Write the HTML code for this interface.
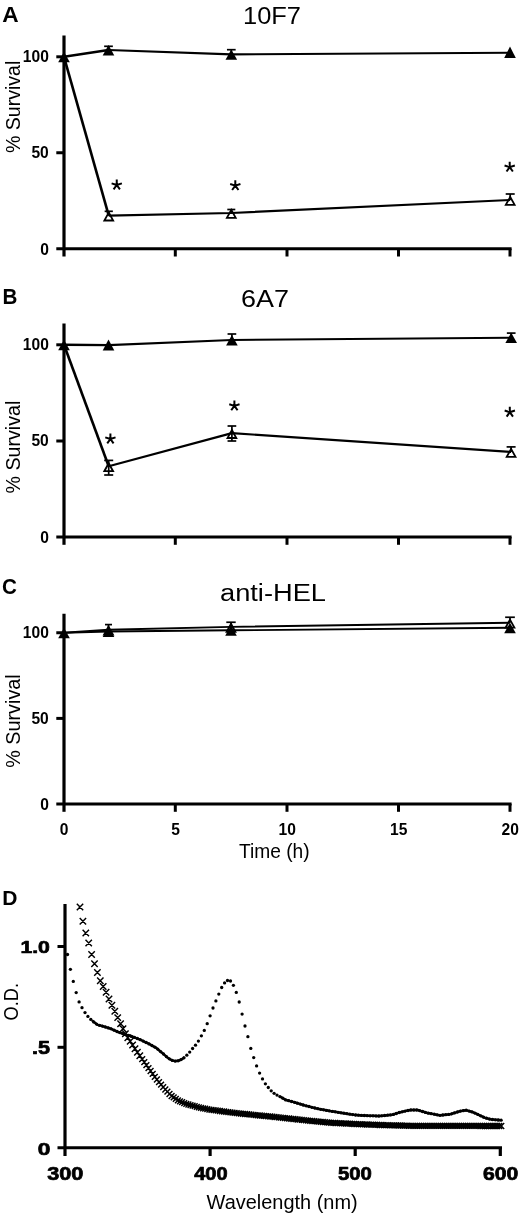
<!DOCTYPE html>
<html><head><meta charset="utf-8"><title>Figure</title>
<style>
html,body{margin:0;padding:0;background:#fff;}
body{width:520px;height:1214px;overflow:hidden;font-family:"Liberation Sans",sans-serif;}
svg{display:block;will-change:transform;filter:grayscale(1) blur(0.45px);}
svg text{font-family:"Liberation Sans",sans-serif;fill:#000;}
svg line,svg polyline{stroke:#000;}
</style></head>
<body>
<svg width="520" height="1214" viewBox="0 0 520 1214">
<rect x="0" y="0" width="520" height="1214" fill="#fff"/>
<text transform="translate(2.20,22.40) scale(1.0544,1)" font-size="21.53" font-weight="bold">A</text>
<text transform="translate(243.00,23.86) scale(1.0713,1)" font-size="23.75" font-weight="normal">10F7</text>
<text transform="translate(20.30,153.10) rotate(-90) scale(0.9593,1)" font-size="20.41" font-weight="normal">% Survival</text>
<line x1="64.00" y1="35.50" x2="64.00" y2="256.50" stroke-width="3.2" stroke-linecap="butt"/>
<line x1="56.30" y1="248.70" x2="511.60" y2="248.70" stroke-width="3.0" stroke-linecap="butt"/>
<line x1="56.30" y1="56.80" x2="64.00" y2="56.80" stroke-width="3.0" stroke-linecap="butt"/>
<line x1="56.30" y1="152.75" x2="64.00" y2="152.75" stroke-width="3.0" stroke-linecap="butt"/>
<line x1="175.30" y1="248.70" x2="175.30" y2="256.50" stroke-width="3.0" stroke-linecap="butt"/>
<line x1="287.00" y1="248.70" x2="287.00" y2="256.50" stroke-width="3.0" stroke-linecap="butt"/>
<line x1="398.50" y1="248.70" x2="398.50" y2="256.50" stroke-width="3.0" stroke-linecap="butt"/>
<line x1="510.00" y1="248.70" x2="510.00" y2="256.50" stroke-width="3.0" stroke-linecap="butt"/>
<text transform="translate(22.79,62.26) scale(1.0000,1)" font-size="15.60" font-weight="bold">100</text>
<text transform="translate(31.44,158.21) scale(1.0000,1)" font-size="15.60" font-weight="bold">50</text>
<text transform="translate(40.14,254.76) scale(1.0000,1)" font-size="15.60" font-weight="bold">0</text>
<line x1="108.75" y1="211.30" x2="108.75" y2="215.60" stroke-width="1.7" stroke-linecap="butt"/>
<line x1="104.65" y1="211.30" x2="112.85" y2="211.30" stroke-width="1.7" stroke-linecap="butt"/>
<line x1="231.30" y1="209.50" x2="231.30" y2="213.00" stroke-width="1.7" stroke-linecap="butt"/>
<line x1="227.30" y1="209.50" x2="235.30" y2="209.50" stroke-width="1.7" stroke-linecap="butt"/>
<line x1="510.20" y1="194.00" x2="510.20" y2="200.00" stroke-width="1.7" stroke-linecap="butt"/>
<line x1="505.70" y1="194.00" x2="514.70" y2="194.00" stroke-width="1.7" stroke-linecap="butt"/>
<line x1="108.50" y1="46.30" x2="108.50" y2="50.00" stroke-width="1.7" stroke-linecap="butt"/>
<line x1="104.15" y1="46.30" x2="112.85" y2="46.30" stroke-width="1.7" stroke-linecap="butt"/>
<line x1="231.30" y1="49.70" x2="231.30" y2="54.40" stroke-width="1.7" stroke-linecap="butt"/>
<line x1="226.95" y1="49.70" x2="235.65" y2="49.70" stroke-width="1.7" stroke-linecap="butt"/>
<polygon points="108.75,212.50 113.15,220.50 104.35,220.50" fill="none" stroke="#000" stroke-width="1.8" stroke-linejoin="miter"/>
<polygon points="231.30,209.90 235.70,217.90 226.90,217.90" fill="none" stroke="#000" stroke-width="1.8" stroke-linejoin="miter"/>
<polygon points="510.20,196.90 514.60,204.90 505.80,204.90" fill="none" stroke="#000" stroke-width="1.8" stroke-linejoin="miter"/>
<polyline points="108.50,50.00 231.30,54.40 510.00,52.70" fill="none" stroke-width="2.1" stroke-linejoin="round"/>
<polyline points="64.00,56.80 108.50,50.00" fill="none" stroke-width="2.4000000000000004" stroke-linejoin="round"/>
<polyline points="108.75,215.60 231.30,213.00 510.20,200.00" fill="none" stroke-width="2.2" stroke-linejoin="round"/>
<polyline points="64.00,56.80 108.75,215.60" fill="none" stroke-width="2.6" stroke-linejoin="round"/>
<polygon points="64.00,51.80 69.80,62.20 58.20,62.20" fill="#000" stroke="none"/>
<polygon points="108.50,45.00 114.30,55.40 102.70,55.40" fill="#000" stroke="none"/>
<polygon points="231.30,49.40 237.10,59.80 225.50,59.80" fill="#000" stroke="none"/>
<polygon points="510.00,46.40 515.80,58.10 504.20,58.10" fill="#000" stroke="none"/>
<path d="M116.75 185.00L116.75 179.60M116.75 185.00L121.89 183.33M116.75 185.00L119.92 189.37M116.75 185.00L113.58 189.37M116.75 185.00L111.61 183.33" fill="none" stroke="#000" stroke-width="2.0"/>
<path d="M235.30 185.60L235.30 180.20M235.30 185.60L240.44 183.93M235.30 185.60L238.47 189.97M235.30 185.60L232.13 189.97M235.30 185.60L230.16 183.93" fill="none" stroke="#000" stroke-width="2.0"/>
<path d="M509.70 167.10L509.70 161.70M509.70 167.10L514.84 165.43M509.70 167.10L512.87 171.47M509.70 167.10L506.53 171.47M509.70 167.10L504.56 165.43" fill="none" stroke="#000" stroke-width="2.0"/>
<text transform="translate(2.60,303.60) scale(0.9516,1)" font-size="21.67" font-weight="bold">B</text>
<text transform="translate(241.00,307.16) scale(1.1028,1)" font-size="24.45" font-weight="normal">6A7</text>
<text transform="translate(20.00,493.50) rotate(-90) scale(0.9764,1)" font-size="20.14" font-weight="normal">% Survival</text>
<line x1="64.00" y1="323.50" x2="64.00" y2="544.80" stroke-width="3.2" stroke-linecap="butt"/>
<line x1="56.30" y1="537.00" x2="511.60" y2="537.00" stroke-width="3.0" stroke-linecap="butt"/>
<line x1="56.30" y1="344.80" x2="64.00" y2="344.80" stroke-width="3.0" stroke-linecap="butt"/>
<line x1="56.30" y1="441.00" x2="64.00" y2="441.00" stroke-width="3.0" stroke-linecap="butt"/>
<line x1="175.30" y1="537.00" x2="175.30" y2="544.80" stroke-width="3.0" stroke-linecap="butt"/>
<line x1="287.00" y1="537.00" x2="287.00" y2="544.80" stroke-width="3.0" stroke-linecap="butt"/>
<line x1="398.50" y1="537.00" x2="398.50" y2="544.80" stroke-width="3.0" stroke-linecap="butt"/>
<line x1="510.00" y1="537.00" x2="510.00" y2="544.80" stroke-width="3.0" stroke-linecap="butt"/>
<text transform="translate(22.79,350.26) scale(1.0000,1)" font-size="15.60" font-weight="bold">100</text>
<text transform="translate(31.44,446.46) scale(1.0000,1)" font-size="15.60" font-weight="bold">50</text>
<text transform="translate(40.14,543.06) scale(1.0000,1)" font-size="15.60" font-weight="bold">0</text>
<line x1="108.70" y1="460.40" x2="108.70" y2="475.00" stroke-width="1.7" stroke-linecap="butt"/>
<line x1="104.20" y1="460.40" x2="113.20" y2="460.40" stroke-width="1.7" stroke-linecap="butt"/>
<line x1="104.20" y1="475.00" x2="113.20" y2="475.00" stroke-width="1.7" stroke-linecap="butt"/>
<line x1="231.90" y1="426.00" x2="231.90" y2="441.00" stroke-width="1.7" stroke-linecap="butt"/>
<line x1="227.55" y1="426.00" x2="236.25" y2="426.00" stroke-width="1.7" stroke-linecap="butt"/>
<line x1="227.55" y1="441.00" x2="236.25" y2="441.00" stroke-width="1.7" stroke-linecap="butt"/>
<line x1="511.10" y1="446.90" x2="511.10" y2="452.00" stroke-width="1.7" stroke-linecap="butt"/>
<line x1="506.60" y1="446.90" x2="515.60" y2="446.90" stroke-width="1.7" stroke-linecap="butt"/>
<line x1="231.90" y1="334.00" x2="231.90" y2="340.00" stroke-width="1.7" stroke-linecap="butt"/>
<line x1="227.55" y1="334.00" x2="236.25" y2="334.00" stroke-width="1.7" stroke-linecap="butt"/>
<line x1="511.20" y1="333.10" x2="511.20" y2="337.70" stroke-width="1.7" stroke-linecap="butt"/>
<line x1="506.85" y1="333.10" x2="515.55" y2="333.10" stroke-width="1.7" stroke-linecap="butt"/>
<polygon points="108.70,463.20 113.10,471.20 104.30,471.20" fill="none" stroke="#000" stroke-width="1.8" stroke-linejoin="miter"/>
<polygon points="231.90,430.00 236.30,438.00 227.50,438.00" fill="none" stroke="#000" stroke-width="1.8" stroke-linejoin="miter"/>
<polygon points="511.10,448.90 515.50,456.90 506.70,456.90" fill="none" stroke="#000" stroke-width="1.8" stroke-linejoin="miter"/>
<polyline points="108.50,345.10 231.90,340.00 511.20,337.70" fill="none" stroke-width="2.1" stroke-linejoin="round"/>
<polyline points="64.00,344.80 108.50,345.10" fill="none" stroke-width="2.4000000000000004" stroke-linejoin="round"/>
<polyline points="108.70,466.30 231.90,433.10 511.10,452.00" fill="none" stroke-width="2.2" stroke-linejoin="round"/>
<polyline points="64.00,344.80 108.70,466.30" fill="none" stroke-width="2.6" stroke-linejoin="round"/>
<polygon points="64.00,339.80 69.80,350.20 58.20,350.20" fill="#000" stroke="none"/>
<polygon points="108.50,339.50 114.30,350.50 102.70,350.50" fill="#000" stroke="none"/>
<polygon points="231.90,335.00 237.70,345.40 226.10,345.40" fill="#000" stroke="none"/>
<polygon points="511.20,332.70 517.00,343.10 505.40,343.10" fill="#000" stroke="none"/>
<path d="M110.40 439.00L110.40 433.60M110.40 439.00L115.54 437.33M110.40 439.00L113.57 443.37M110.40 439.00L107.23 443.37M110.40 439.00L105.26 437.33" fill="none" stroke="#000" stroke-width="2.0"/>
<path d="M234.40 405.90L234.40 400.50M234.40 405.90L239.54 404.23M234.40 405.90L237.57 410.27M234.40 405.90L231.23 410.27M234.40 405.90L229.26 404.23" fill="none" stroke="#000" stroke-width="2.0"/>
<path d="M509.80 412.20L509.80 406.80M509.80 412.20L514.94 410.53M509.80 412.20L512.97 416.57M509.80 412.20L506.63 416.57M509.80 412.20L504.66 410.53" fill="none" stroke="#000" stroke-width="2.0"/>
<text transform="translate(2.10,593.98) scale(0.9474,1)" font-size="21.77" font-weight="bold">C</text>
<text transform="translate(220.00,601.00) scale(1.1423,1)" font-size="23.85" font-weight="normal">anti-HEL</text>
<text transform="translate(20.40,767.80) rotate(-90) scale(0.9772,1)" font-size="20.27" font-weight="normal">% Survival</text>
<line x1="64.00" y1="613.75" x2="64.00" y2="811.80" stroke-width="3.2" stroke-linecap="butt"/>
<line x1="56.30" y1="804.00" x2="511.60" y2="804.00" stroke-width="3.0" stroke-linecap="butt"/>
<line x1="56.30" y1="632.75" x2="64.00" y2="632.75" stroke-width="3.0" stroke-linecap="butt"/>
<line x1="56.30" y1="718.40" x2="64.00" y2="718.40" stroke-width="3.0" stroke-linecap="butt"/>
<line x1="175.30" y1="804.00" x2="175.30" y2="811.80" stroke-width="3.0" stroke-linecap="butt"/>
<line x1="287.00" y1="804.00" x2="287.00" y2="811.80" stroke-width="3.0" stroke-linecap="butt"/>
<line x1="398.50" y1="804.00" x2="398.50" y2="811.80" stroke-width="3.0" stroke-linecap="butt"/>
<line x1="510.00" y1="804.00" x2="510.00" y2="811.80" stroke-width="3.0" stroke-linecap="butt"/>
<text transform="translate(22.79,638.21) scale(1.0000,1)" font-size="15.60" font-weight="bold">100</text>
<text transform="translate(31.44,723.86) scale(1.0000,1)" font-size="15.60" font-weight="bold">50</text>
<text transform="translate(40.14,810.06) scale(1.0000,1)" font-size="15.60" font-weight="bold">0</text>
<line x1="108.50" y1="624.60" x2="108.50" y2="629.70" stroke-width="1.7" stroke-linecap="butt"/>
<line x1="105.00" y1="624.60" x2="112.00" y2="624.60" stroke-width="1.7" stroke-linecap="butt"/>
<line x1="231.00" y1="622.25" x2="231.00" y2="626.90" stroke-width="1.7" stroke-linecap="butt"/>
<line x1="226.30" y1="622.25" x2="235.70" y2="622.25" stroke-width="1.7" stroke-linecap="butt"/>
<line x1="510.00" y1="617.25" x2="510.00" y2="622.75" stroke-width="1.7" stroke-linecap="butt"/>
<line x1="505.15" y1="617.25" x2="514.85" y2="617.25" stroke-width="1.7" stroke-linecap="butt"/>
<polygon points="108.50,626.60 112.90,634.60 104.10,634.60" fill="none" stroke="#000" stroke-width="1.8" stroke-linejoin="miter"/>
<polygon points="231.00,623.80 235.40,631.80 226.60,631.80" fill="none" stroke="#000" stroke-width="1.8" stroke-linejoin="miter"/>
<polygon points="510.00,619.65 514.40,627.65 505.60,627.65" fill="none" stroke="#000" stroke-width="1.8" stroke-linejoin="miter"/>
<polyline points="108.50,631.50 231.00,630.30 510.00,627.75" fill="none" stroke-width="1.9" stroke-linejoin="round"/>
<polyline points="108.50,629.70 231.00,626.90 510.00,622.75" fill="none" stroke-width="1.9" stroke-linejoin="round"/>
<polyline points="64.00,632.75 108.50,631.50" fill="none" stroke-width="2.1" stroke-linejoin="round"/>
<polyline points="64.00,632.75 108.50,629.70" fill="none" stroke-width="2.1" stroke-linejoin="round"/>
<polygon points="64.00,627.75 69.80,638.15 58.20,638.15" fill="#000" stroke="none"/>
<polygon points="108.50,626.50 114.30,636.90 102.70,636.90" fill="#000" stroke="none"/>
<polygon points="231.00,625.30 236.80,635.70 225.20,635.70" fill="#000" stroke="none"/>
<polygon points="510.00,622.75 515.80,633.15 504.20,633.15" fill="#000" stroke="none"/>
<text transform="translate(59.67,835.14) scale(1.0000,1)" font-size="15.60" font-weight="bold">0</text>
<text transform="translate(171.27,835.14) scale(1.0000,1)" font-size="15.60" font-weight="bold">5</text>
<text transform="translate(278.62,835.14) scale(1.0000,1)" font-size="15.60" font-weight="bold">10</text>
<text transform="translate(390.12,835.14) scale(1.0000,1)" font-size="15.60" font-weight="bold">15</text>
<text transform="translate(501.62,835.14) scale(1.0000,1)" font-size="15.60" font-weight="bold">20</text>
<text transform="translate(239.00,858.00) scale(0.9422,1)" font-size="20.36" font-weight="normal">Time (h)</text>
<text transform="translate(2.30,904.50) scale(1.0331,1)" font-size="20.36" font-weight="bold">D</text>
<text transform="translate(18.00,1020.50) rotate(-90) scale(0.8652,1)" font-size="21.09" font-weight="normal">O.D.</text>
<line x1="65.00" y1="904.00" x2="65.00" y2="1156.00" stroke-width="3.2" stroke-linecap="butt"/>
<line x1="57.50" y1="1147.70" x2="502.00" y2="1147.70" stroke-width="3.0" stroke-linecap="butt"/>
<line x1="57.50" y1="946.50" x2="65.00" y2="946.50" stroke-width="3.0" stroke-linecap="butt"/>
<line x1="57.50" y1="1047.30" x2="65.00" y2="1047.30" stroke-width="3.0" stroke-linecap="butt"/>
<line x1="210.10" y1="1147.70" x2="210.10" y2="1156.00" stroke-width="3.2" stroke-linecap="butt"/>
<line x1="355.20" y1="1147.70" x2="355.20" y2="1156.00" stroke-width="3.2" stroke-linecap="butt"/>
<line x1="500.30" y1="1147.70" x2="500.30" y2="1156.00" stroke-width="3.2" stroke-linecap="butt"/>
<text transform="translate(20.40,952.83) scale(1.2308,1)" font-size="17.24" font-weight="bold" stroke="#000" stroke-width="0.7" stroke-linejoin="round">1.0</text>
<text transform="translate(31.90,1053.73) scale(1.2325,1)" font-size="17.49" font-weight="bold" stroke="#000" stroke-width="0.7" stroke-linejoin="round">.5</text>
<text transform="translate(37.80,1154.63) scale(1.3166,1)" font-size="17.24" font-weight="bold" stroke="#000" stroke-width="0.7" stroke-linejoin="round">0</text>
<text transform="translate(47.20,1180.38) scale(1.2297,1)" font-size="17.61" font-weight="bold" stroke="#000" stroke-width="0.7" stroke-linejoin="round">300</text>
<text transform="translate(194.20,1180.42) scale(1.1337,1)" font-size="17.67" font-weight="bold" stroke="#000" stroke-width="0.7" stroke-linejoin="round">400</text>
<text transform="translate(338.00,1180.42) scale(1.1507,1)" font-size="17.67" font-weight="bold" stroke="#000" stroke-width="0.7" stroke-linejoin="round">500</text>
<text transform="translate(483.00,1180.42) scale(1.1982,1)" font-size="17.67" font-weight="bold" stroke="#000" stroke-width="0.7" stroke-linejoin="round">600</text>
<text transform="translate(206.60,1208.50) scale(0.9461,1)" font-size="21.09" font-weight="normal">Wavelength (nm)</text>
<g fill="#000" stroke="none"><circle cx="67.5" cy="954.5" r="1.65"/><circle cx="70.4" cy="969.3" r="1.65"/><circle cx="73.3" cy="981.4" r="1.65"/><circle cx="76.2" cy="992.6" r="1.65"/><circle cx="79.1" cy="1001.9" r="1.65"/><circle cx="82.0" cy="1007.7" r="1.65"/><circle cx="85.0" cy="1012.6" r="1.65"/><circle cx="87.9" cy="1016.4" r="1.65"/><circle cx="90.8" cy="1019.4" r="1.65"/><circle cx="93.7" cy="1021.9" r="1.65"/><circle cx="96.6" cy="1024.1" r="1.65"/><circle cx="99.5" cy="1025.3" r="1.65"/><circle cx="102.4" cy="1026.1" r="1.65"/><circle cx="105.3" cy="1027.0" r="1.65"/><circle cx="108.2" cy="1027.9" r="1.65"/><circle cx="111.1" cy="1028.8" r="1.65"/><circle cx="114.1" cy="1030.2" r="1.65"/><circle cx="117.0" cy="1031.5" r="1.65"/><circle cx="119.9" cy="1032.6" r="1.65"/><circle cx="122.8" cy="1033.6" r="1.65"/><circle cx="125.7" cy="1034.6" r="1.65"/><circle cx="128.6" cy="1035.5" r="1.65"/><circle cx="131.5" cy="1036.4" r="1.65"/><circle cx="134.4" cy="1037.4" r="1.65"/><circle cx="137.3" cy="1038.5" r="1.65"/><circle cx="140.2" cy="1039.7" r="1.65"/><circle cx="143.2" cy="1041.1" r="1.65"/><circle cx="146.1" cy="1042.5" r="1.65"/><circle cx="149.0" cy="1043.9" r="1.65"/><circle cx="151.9" cy="1045.5" r="1.65"/><circle cx="154.8" cy="1047.1" r="1.65"/><circle cx="157.7" cy="1049.1" r="1.65"/><circle cx="160.6" cy="1051.6" r="1.65"/><circle cx="163.5" cy="1054.0" r="1.65"/><circle cx="166.4" cy="1056.6" r="1.65"/><circle cx="169.3" cy="1058.8" r="1.65"/><circle cx="172.3" cy="1060.4" r="1.65"/><circle cx="175.2" cy="1061.1" r="1.65"/><circle cx="178.1" cy="1060.8" r="1.65"/><circle cx="181.0" cy="1059.6" r="1.65"/><circle cx="183.9" cy="1057.8" r="1.65"/><circle cx="186.8" cy="1055.2" r="1.65"/><circle cx="189.7" cy="1052.1" r="1.65"/><circle cx="192.6" cy="1048.5" r="1.65"/><circle cx="195.5" cy="1045.2" r="1.65"/><circle cx="198.4" cy="1041.1" r="1.65"/><circle cx="201.4" cy="1035.8" r="1.65"/><circle cx="204.3" cy="1030.4" r="1.65"/><circle cx="207.2" cy="1023.7" r="1.65"/><circle cx="210.1" cy="1015.8" r="1.65"/><circle cx="213.0" cy="1008.0" r="1.65"/><circle cx="215.9" cy="1000.9" r="1.65"/><circle cx="218.8" cy="994.1" r="1.65"/><circle cx="221.7" cy="987.5" r="1.65"/><circle cx="224.6" cy="982.9" r="1.65"/><circle cx="227.5" cy="980.5" r="1.65"/><circle cx="230.5" cy="981.0" r="1.65"/><circle cx="233.4" cy="985.3" r="1.65"/><circle cx="236.3" cy="992.4" r="1.65"/><circle cx="239.2" cy="1002.0" r="1.65"/><circle cx="242.1" cy="1014.1" r="1.65"/><circle cx="245.0" cy="1026.0" r="1.65"/><circle cx="247.9" cy="1036.7" r="1.65"/><circle cx="250.8" cy="1048.4" r="1.65"/><circle cx="253.7" cy="1057.6" r="1.65"/><circle cx="256.6" cy="1065.9" r="1.65"/><circle cx="259.6" cy="1073.1" r="1.65"/><circle cx="262.5" cy="1078.9" r="1.65"/><circle cx="265.4" cy="1083.8" r="1.65"/><circle cx="268.3" cy="1087.5" r="1.65"/><circle cx="271.2" cy="1090.8" r="1.65"/><circle cx="274.1" cy="1093.3" r="1.65"/><circle cx="277.0" cy="1095.1" r="1.65"/><circle cx="279.9" cy="1096.6" r="1.65"/><circle cx="282.8" cy="1098.2" r="1.65"/><circle cx="285.7" cy="1099.9" r="1.65"/><circle cx="288.7" cy="1100.7" r="1.65"/><circle cx="291.6" cy="1101.5" r="1.65"/><circle cx="294.5" cy="1102.3" r="1.65"/><circle cx="297.4" cy="1103.2" r="1.65"/><circle cx="300.3" cy="1104.1" r="1.65"/><circle cx="303.2" cy="1105.0" r="1.65"/><circle cx="306.1" cy="1105.8" r="1.65"/><circle cx="309.0" cy="1106.5" r="1.65"/><circle cx="311.9" cy="1107.3" r="1.65"/><circle cx="314.8" cy="1108.0" r="1.65"/><circle cx="317.8" cy="1108.7" r="1.65"/><circle cx="320.7" cy="1109.3" r="1.65"/><circle cx="323.6" cy="1109.8" r="1.65"/><circle cx="326.5" cy="1110.4" r="1.65"/><circle cx="329.4" cy="1110.9" r="1.65"/><circle cx="332.3" cy="1111.4" r="1.65"/><circle cx="335.2" cy="1111.8" r="1.65"/><circle cx="338.1" cy="1112.3" r="1.65"/><circle cx="341.0" cy="1112.8" r="1.65"/><circle cx="343.9" cy="1113.2" r="1.65"/><circle cx="346.9" cy="1113.7" r="1.65"/><circle cx="349.8" cy="1114.2" r="1.65"/><circle cx="352.7" cy="1114.6" r="1.65"/><circle cx="355.6" cy="1115.0" r="1.65"/><circle cx="358.5" cy="1115.2" r="1.65"/><circle cx="361.4" cy="1115.4" r="1.65"/><circle cx="364.3" cy="1115.5" r="1.65"/><circle cx="367.2" cy="1115.7" r="1.65"/><circle cx="370.1" cy="1115.8" r="1.65"/><circle cx="373.0" cy="1115.8" r="1.65"/><circle cx="376.0" cy="1115.9" r="1.65"/><circle cx="378.9" cy="1116.0" r="1.65"/><circle cx="381.8" cy="1115.8" r="1.65"/><circle cx="384.7" cy="1115.5" r="1.65"/><circle cx="387.6" cy="1115.2" r="1.65"/><circle cx="390.5" cy="1114.9" r="1.65"/><circle cx="393.4" cy="1114.4" r="1.65"/><circle cx="396.3" cy="1113.5" r="1.65"/><circle cx="399.2" cy="1112.5" r="1.65"/><circle cx="402.1" cy="1111.8" r="1.65"/><circle cx="405.1" cy="1111.1" r="1.65"/><circle cx="408.0" cy="1110.5" r="1.65"/><circle cx="410.9" cy="1110.0" r="1.65"/><circle cx="413.8" cy="1110.0" r="1.65"/><circle cx="416.7" cy="1110.0" r="1.65"/><circle cx="419.6" cy="1110.6" r="1.65"/><circle cx="422.5" cy="1111.5" r="1.65"/><circle cx="425.4" cy="1112.4" r="1.65"/><circle cx="428.3" cy="1113.2" r="1.65"/><circle cx="431.2" cy="1113.7" r="1.65"/><circle cx="434.2" cy="1114.2" r="1.65"/><circle cx="437.1" cy="1114.8" r="1.65"/><circle cx="440.0" cy="1115.3" r="1.65"/><circle cx="442.9" cy="1115.0" r="1.65"/><circle cx="445.8" cy="1114.7" r="1.65"/><circle cx="448.7" cy="1114.4" r="1.65"/><circle cx="451.6" cy="1113.8" r="1.65"/><circle cx="454.5" cy="1112.9" r="1.65"/><circle cx="457.4" cy="1112.0" r="1.65"/><circle cx="460.3" cy="1111.1" r="1.65"/><circle cx="463.3" cy="1110.7" r="1.65"/><circle cx="466.2" cy="1110.2" r="1.65"/><circle cx="469.1" cy="1111.1" r="1.65"/><circle cx="472.0" cy="1111.9" r="1.65"/><circle cx="474.9" cy="1113.1" r="1.65"/><circle cx="477.8" cy="1114.4" r="1.65"/><circle cx="480.7" cy="1115.8" r="1.65"/><circle cx="483.6" cy="1117.2" r="1.65"/><circle cx="486.5" cy="1118.2" r="1.65"/><circle cx="489.4" cy="1119.0" r="1.65"/><circle cx="492.4" cy="1119.5" r="1.65"/><circle cx="495.3" cy="1119.8" r="1.65"/><circle cx="498.2" cy="1120.0" r="1.65"/><circle cx="501.1" cy="1120.2" r="1.65"/></g>
<polyline points="92.00,1020.42 93.45,1021.67 94.90,1022.83 96.35,1023.94 97.80,1024.88 99.25,1025.27 100.70,1025.66 102.15,1026.05 103.60,1026.47 105.05,1026.90 106.50,1027.34 107.95,1027.77 109.40,1028.20 110.85,1028.71 112.30,1029.38 113.75,1030.04 115.20,1030.71 116.65,1031.38 118.10,1032.03 119.55,1032.52 121.00,1033.00 122.45,1033.48 123.90,1033.97 125.35,1034.45 126.80,1034.91 128.25,1035.36 129.70,1035.82 131.15,1036.27 132.60,1036.72 134.05,1037.22 135.50,1037.80 136.95,1038.38 138.40,1038.96 139.85,1039.54 141.30,1040.15 142.75,1040.85 144.20,1041.56 145.65,1042.27 147.10,1042.97 148.55,1043.68 150.00,1044.45 151.45,1045.25 152.90,1046.04 154.35,1046.83 155.80,1047.62 157.25,1048.68 158.70,1049.99 160.15,1051.25 161.60,1052.45 163.05,1053.65 164.50,1054.87 165.95,1056.17 167.40,1057.46 168.85,1058.49 170.30,1059.32 171.75,1060.16 173.20,1060.62 174.65,1061.00 176.10,1061.08 177.55,1060.84 179.00,1060.60 180.45,1059.84 181.90,1059.08 183.35,1058.21 184.80,1057.00" fill="none" stroke-width="2.5" stroke-linejoin="round"/>
<polyline points="280.00,1096.68 281.45,1097.45 282.90,1098.23 284.35,1099.06 285.80,1099.89 287.25,1100.33 288.70,1100.71 290.15,1101.09 291.60,1101.46 293.05,1101.87 294.50,1102.31 295.95,1102.75 297.40,1103.19 298.85,1103.63 300.30,1104.07 301.75,1104.51 303.20,1104.95 304.65,1105.39 306.10,1105.78 307.55,1106.15 309.00,1106.52 310.45,1106.90 311.90,1107.27 313.35,1107.64 314.80,1108.01 316.25,1108.38 317.70,1108.74 319.15,1109.00 320.60,1109.27 322.05,1109.54 323.50,1109.80 324.95,1110.07 326.40,1110.34 327.85,1110.60 329.30,1110.87 330.75,1111.12 332.20,1111.35 333.65,1111.58 335.10,1111.82 336.55,1112.05 338.00,1112.28 339.45,1112.51 340.90,1112.74 342.35,1112.98 343.80,1113.21 345.25,1113.44 346.70,1113.67 348.15,1113.90 349.60,1114.14 351.05,1114.37 352.50,1114.60 353.95,1114.83 355.40,1115.02 356.85,1115.10 358.30,1115.18 359.75,1115.27 361.20,1115.35 362.65,1115.43 364.10,1115.51 365.55,1115.59 367.00,1115.67 368.45,1115.72 369.90,1115.76 371.35,1115.79 372.80,1115.83 374.25,1115.86 375.70,1115.90 377.15,1115.93 378.60,1115.97 380.05,1115.99 381.50,1115.84 382.95,1115.69 384.40,1115.54 385.85,1115.39 387.30,1115.24 388.75,1115.09 390.20,1114.94 391.65,1114.79 393.10,1114.51 394.55,1114.04 396.00,1113.58 397.45,1113.12 398.90,1112.65 400.35,1112.22 401.80,1111.89 403.25,1111.55 404.70,1111.22 406.15,1110.89 407.60,1110.55 409.05,1110.22 410.50,1110.00 411.95,1110.00 413.40,1110.00 414.85,1110.00 416.30,1110.00 417.75,1110.07 419.20,1110.51 420.65,1110.94 422.10,1111.38 423.55,1111.81 425.00,1112.25 426.45,1112.68 427.90,1113.07 429.35,1113.34 430.80,1113.61 432.25,1113.87 433.70,1114.14 435.15,1114.41 436.60,1114.67 438.05,1114.94 439.50,1115.21 440.95,1115.21 442.40,1115.06 443.85,1114.92 445.30,1114.77 446.75,1114.62 448.20,1114.48 449.65,1114.34 451.10,1113.96 452.55,1113.51 454.00,1113.06 455.45,1112.61 456.90,1112.16 458.35,1111.71 459.80,1111.26 461.25,1110.99 462.70,1110.75 464.15,1110.51 465.60,1110.27 467.05,1110.49 468.50,1110.89 469.95,1111.29 471.40,1111.70 472.85,1112.16 474.30,1112.82 475.75,1113.48 477.20,1114.14 478.65,1114.82 480.10,1115.52 481.55,1116.22 483.00,1116.92 484.45,1117.63 485.90,1118.06 487.35,1118.46 488.80,1118.87 490.25,1119.23 491.70,1119.41 493.15,1119.59 494.60,1119.74 496.05,1119.84 497.50,1119.93 498.95,1120.03 500.40,1120.13" fill="none" stroke-width="2.5" stroke-linejoin="round"/>
<path d="M76.8 903.8L83.2 910.2M76.8 910.2L83.2 903.8M79.7 918.1L86.1 924.5M79.7 924.5L86.1 918.1M82.6 929.8L89.0 936.2M82.6 936.2L89.0 929.8M85.5 939.8L91.9 946.2M85.5 946.2L91.9 939.8M88.4 951.3L94.8 957.7M88.4 957.7L94.8 951.3M91.3 960.6L97.7 967.0M91.3 967.0L97.7 960.6M94.2 969.3L100.6 975.7M94.2 975.7L100.6 969.3M97.1 977.6L103.5 984.0M97.1 984.0L103.5 977.6M100.0 983.3L106.4 989.7M100.0 989.7L106.4 983.3M102.9 989.1L109.3 995.5M102.9 995.5L109.3 989.1M105.8 995.8L112.2 1002.2M105.8 1002.2L112.2 995.8M108.7 1002.0L115.1 1008.4M108.7 1008.4L115.1 1002.0M111.6 1008.1L118.0 1014.5M111.6 1014.5L118.0 1008.1M114.5 1014.4L120.9 1020.8M114.5 1020.8L120.9 1014.4M117.4 1020.5L123.8 1026.9M117.4 1026.9L123.8 1020.5M119.8 1025.5L126.2 1031.9M119.8 1031.9L126.2 1025.5M122.2 1030.6L128.6 1037.0M122.2 1037.0L128.6 1030.6M124.6 1034.5L131.0 1040.9M124.6 1040.9L131.0 1034.5M127.0 1038.1L133.4 1044.5M127.0 1044.5L133.4 1038.1M129.4 1041.8L135.8 1048.2M129.4 1048.2L135.8 1041.8M131.8 1045.5L138.2 1051.9M131.8 1051.9L138.2 1045.5M134.2 1049.0L140.6 1055.4M134.2 1055.4L140.6 1049.0M136.6 1052.5L143.0 1058.9M136.6 1058.9L143.0 1052.5M139.3 1056.2L145.1 1062.0M139.3 1062.0L145.1 1056.2M141.4 1059.2L147.2 1065.0M141.4 1065.0L147.2 1059.2M143.5 1062.2L149.3 1068.0M143.5 1068.0L149.3 1062.2M145.6 1065.2L151.4 1071.0M145.6 1071.0L151.4 1065.2M147.7 1068.1L153.5 1073.9M147.7 1073.9L153.5 1068.1M149.8 1071.0L155.6 1076.8M149.8 1076.8L155.6 1071.0M151.9 1074.0L157.7 1079.8M151.9 1079.8L157.7 1074.0M154.0 1076.6L159.8 1082.4M154.0 1082.4L159.8 1076.6M156.1 1079.2L161.9 1085.0M156.1 1085.0L161.9 1079.2M158.2 1081.8L164.0 1087.6M158.2 1087.6L164.0 1081.8M160.3 1084.3L166.1 1090.1M160.3 1090.1L166.1 1084.3M162.4 1086.6L168.2 1092.4M162.4 1092.4L168.2 1086.6M164.5 1088.8L170.3 1094.6M164.5 1094.6L170.3 1088.8M166.6 1091.1L172.4 1096.9M166.6 1096.9L172.4 1091.1M168.7 1093.1L174.5 1098.9M168.7 1098.9L174.5 1093.1M170.8 1094.5L176.6 1100.3M170.8 1100.3L176.6 1094.5M172.9 1096.0L178.7 1101.8M172.9 1101.8L178.7 1096.0M175.0 1097.5L180.8 1103.3M175.0 1103.3L180.8 1097.5M177.1 1098.5L182.9 1104.3M177.1 1104.3L182.9 1098.5M179.2 1099.3L185.0 1105.1M179.2 1105.1L185.0 1099.3M181.3 1100.2L187.1 1106.0M181.3 1106.0L187.1 1100.2M183.4 1101.0L189.2 1106.8M183.4 1106.8L189.2 1101.0M185.5 1101.6L191.3 1107.4M185.5 1107.4L191.3 1101.6M187.6 1102.2L193.4 1108.0M187.6 1108.0L193.4 1102.2M189.7 1102.8L195.5 1108.6M189.7 1108.6L195.5 1102.8M191.8 1103.3L197.6 1109.1M191.8 1109.1L197.6 1103.3M193.9 1103.9L199.7 1109.7M193.9 1109.7L199.7 1103.9M196.0 1104.4L201.8 1110.2M196.0 1110.2L201.8 1104.4M198.1 1105.0L203.9 1110.8M198.1 1110.8L203.9 1105.0M200.2 1105.4L206.0 1111.2M200.2 1111.2L206.0 1105.4M202.3 1105.8L208.1 1111.6M202.3 1111.6L208.1 1105.8M204.4 1106.3L210.2 1112.1M204.4 1112.1L210.2 1106.3M206.5 1106.7L212.3 1112.5M206.5 1112.5L212.3 1106.7M208.6 1106.9L214.4 1112.7M208.6 1112.7L214.4 1106.9M210.7 1107.2L216.5 1113.0M210.7 1113.0L216.5 1107.2M212.8 1107.5L218.6 1113.3M212.8 1113.3L218.6 1107.5M214.9 1107.8L220.7 1113.6M214.9 1113.6L220.7 1107.8M217.0 1108.1L222.8 1113.9M217.0 1113.9L222.8 1108.1M219.1 1108.4L224.9 1114.2M219.1 1114.2L224.9 1108.4M221.2 1108.6L227.0 1114.4M221.2 1114.4L227.0 1108.6M223.3 1108.9L229.1 1114.7M223.3 1114.7L229.1 1108.9M225.4 1109.2L231.2 1115.0M225.4 1115.0L231.2 1109.2M227.5 1109.5L233.3 1115.3M227.5 1115.3L233.3 1109.5M229.6 1109.8L235.4 1115.6M229.6 1115.6L235.4 1109.8M231.7 1110.0L237.5 1115.8M231.7 1115.8L237.5 1110.0M233.8 1110.3L239.6 1116.1M233.8 1116.1L239.6 1110.3M235.9 1110.5L241.7 1116.3M235.9 1116.3L241.7 1110.5M238.0 1110.7L243.8 1116.5M238.0 1116.5L243.8 1110.7M240.1 1110.9L245.9 1116.7M240.1 1116.7L245.9 1110.9M242.2 1111.1L248.0 1116.9M242.2 1116.9L248.0 1111.1M244.3 1111.3L250.1 1117.1M244.3 1117.1L250.1 1111.3M246.4 1111.5L252.2 1117.3M246.4 1117.3L252.2 1111.5M248.5 1111.7L254.3 1117.5M248.5 1117.5L254.3 1111.7M250.6 1111.9L256.4 1117.8M250.6 1117.8L256.4 1111.9M252.7 1112.2L258.5 1118.0M252.7 1118.0L258.5 1112.2M254.8 1112.4L260.6 1118.2M254.8 1118.2L260.6 1112.4M256.9 1112.6L262.7 1118.4M256.9 1118.4L262.7 1112.6M259.0 1112.8L264.8 1118.6M259.0 1118.6L264.8 1112.8M261.1 1113.0L266.9 1118.8M261.1 1118.8L266.9 1113.0M263.2 1113.2L269.0 1119.0M263.2 1119.0L269.0 1113.2M265.3 1113.4L271.1 1119.2M265.3 1119.2L271.1 1113.4M267.4 1113.6L273.2 1119.4M267.4 1119.4L273.2 1113.6M269.5 1113.8L275.3 1119.6M269.5 1119.6L275.3 1113.8M271.6 1114.0L277.4 1119.9M271.6 1119.9L277.4 1114.0M273.7 1114.3L279.5 1120.1M273.7 1120.1L279.5 1114.3M275.8 1114.5L281.6 1120.3M275.8 1120.3L281.6 1114.5M277.9 1114.7L283.7 1120.5M277.9 1120.5L283.7 1114.7M280.0 1114.9L285.8 1120.7M280.0 1120.7L285.8 1114.9M282.1 1115.2L287.9 1121.0M282.1 1121.0L287.9 1115.2M284.2 1115.4L290.0 1121.2M284.2 1121.2L290.0 1115.4M286.3 1115.6L292.1 1121.4M286.3 1121.4L292.1 1115.6M288.4 1115.9L294.2 1121.7M288.4 1121.7L294.2 1115.9M290.5 1116.1L296.3 1121.9M290.5 1121.9L296.3 1116.1M292.6 1116.3L298.4 1122.1M292.6 1122.1L298.4 1116.3M294.7 1116.6L300.5 1122.4M294.7 1122.4L300.5 1116.6M296.8 1116.8L302.6 1122.6M296.8 1122.6L302.6 1116.8M298.9 1117.0L304.7 1122.8M298.9 1122.8L304.7 1117.0M301.0 1117.3L306.8 1123.1M301.0 1123.1L306.8 1117.3M303.1 1117.5L308.9 1123.3M303.1 1123.3L308.9 1117.5M305.2 1117.7L311.0 1123.5M305.2 1123.5L311.0 1117.7M307.3 1117.9L313.1 1123.7M307.3 1123.7L313.1 1117.9M309.4 1118.1L315.2 1123.9M309.4 1123.9L315.2 1118.1M311.5 1118.3L317.3 1124.1M311.5 1124.1L317.3 1118.3M313.6 1118.5L319.4 1124.3M313.6 1124.3L319.4 1118.5M315.7 1118.7L321.5 1124.5M315.7 1124.5L321.5 1118.7M317.8 1118.9L323.6 1124.7M317.8 1124.7L323.6 1118.9M319.9 1119.1L325.7 1124.9M319.9 1124.9L325.7 1119.1M322.0 1119.3L327.8 1125.1M322.0 1125.1L327.8 1119.3M324.1 1119.5L329.9 1125.3M324.1 1125.3L329.9 1119.5M326.2 1119.7L332.0 1125.5M326.2 1125.5L332.0 1119.7M328.3 1119.9L334.1 1125.7M328.3 1125.7L334.1 1119.9M330.4 1120.0L336.2 1125.8M330.4 1125.8L336.2 1120.0M332.5 1120.1L338.3 1125.9M332.5 1125.9L338.3 1120.1M334.6 1120.2L340.4 1126.0M334.6 1126.0L340.4 1120.2M336.7 1120.3L342.5 1126.1M336.7 1126.1L342.5 1120.3M338.8 1120.4L344.6 1126.2M338.8 1126.2L344.6 1120.4M340.9 1120.5L346.7 1126.3M340.9 1126.3L346.7 1120.5M343.0 1120.6L348.8 1126.4M343.0 1126.4L348.8 1120.6M345.1 1120.7L350.9 1126.5M345.1 1126.5L350.9 1120.7M347.2 1120.8L353.0 1126.6M347.2 1126.6L353.0 1120.8M349.3 1121.0L355.1 1126.8M349.3 1126.8L355.1 1121.0M351.4 1121.1L357.2 1126.9M351.4 1126.9L357.2 1121.1M353.5 1121.2L359.3 1127.0M353.5 1127.0L359.3 1121.2M355.6 1121.2L361.4 1127.0M355.6 1127.0L361.4 1121.2M357.7 1121.3L363.5 1127.1M357.7 1127.1L363.5 1121.3M359.8 1121.4L365.6 1127.2M359.8 1127.2L365.6 1121.4M361.9 1121.5L367.7 1127.3M361.9 1127.3L367.7 1121.5M364.0 1121.6L369.8 1127.4M364.0 1127.4L369.8 1121.6M366.1 1121.7L371.9 1127.5M366.1 1127.5L371.9 1121.7M368.2 1121.7L374.0 1127.5M368.2 1127.5L374.0 1121.7M370.3 1121.8L376.1 1127.6M370.3 1127.6L376.1 1121.8M372.4 1121.9L378.2 1127.7M372.4 1127.7L378.2 1121.9M374.5 1122.0L380.3 1127.8M374.5 1127.8L380.3 1122.0M376.6 1122.1L382.4 1127.9M376.6 1127.9L382.4 1122.1M378.7 1122.1L384.5 1127.9M378.7 1127.9L384.5 1122.1M380.8 1122.2L386.6 1128.0M380.8 1128.0L386.6 1122.2M382.9 1122.3L388.7 1128.1M382.9 1128.1L388.7 1122.3M385.0 1122.3L390.8 1128.1M385.0 1128.1L390.8 1122.3M387.1 1122.4L392.9 1128.2M387.1 1128.2L392.9 1122.4M389.2 1122.4L395.0 1128.2M389.2 1128.2L395.0 1122.4M391.3 1122.5L397.1 1128.3M391.3 1128.3L397.1 1122.5M393.4 1122.5L399.2 1128.3M393.4 1128.3L399.2 1122.5M395.5 1122.6L401.3 1128.4M395.5 1128.4L401.3 1122.6M397.6 1122.6L403.4 1128.4M397.6 1128.4L403.4 1122.6M399.7 1122.7L405.5 1128.5M399.7 1128.5L405.5 1122.7M401.8 1122.8L407.6 1128.6M401.8 1128.6L407.6 1122.8M403.9 1122.8L409.7 1128.6M403.9 1128.6L409.7 1122.8M406.0 1122.9L411.8 1128.7M406.0 1128.7L411.8 1122.9M408.1 1122.9L413.9 1128.7M408.1 1128.7L413.9 1122.9M410.2 1122.9L416.0 1128.7M410.2 1128.7L416.0 1122.9M412.3 1122.9L418.1 1128.7M412.3 1128.7L418.1 1122.9M414.4 1122.9L420.2 1128.7M414.4 1128.7L420.2 1122.9M416.5 1122.9L422.3 1128.7M416.5 1128.7L422.3 1122.9M418.6 1122.9L424.4 1128.7M418.6 1128.7L424.4 1122.9M420.7 1122.9L426.5 1128.7M420.7 1128.7L426.5 1122.9M422.8 1122.9L428.6 1128.7M422.8 1128.7L428.6 1122.9M424.9 1122.9L430.7 1128.7M424.9 1128.7L430.7 1122.9M427.0 1122.9L432.8 1128.7M427.0 1128.7L432.8 1122.9M429.1 1122.9L434.9 1128.7M429.1 1128.7L434.9 1122.9M431.2 1123.0L437.0 1128.8M431.2 1128.8L437.0 1123.0M433.3 1123.0L439.1 1128.8M433.3 1128.8L439.1 1123.0M435.4 1123.0L441.2 1128.8M435.4 1128.8L441.2 1123.0M437.5 1123.0L443.3 1128.8M437.5 1128.8L443.3 1123.0M439.6 1123.0L445.4 1128.8M439.6 1128.8L445.4 1123.0M441.7 1123.0L447.5 1128.8M441.7 1128.8L447.5 1123.0M443.8 1123.0L449.6 1128.8M443.8 1128.8L449.6 1123.0M445.9 1123.0L451.7 1128.8M445.9 1128.8L451.7 1123.0M448.0 1123.0L453.8 1128.8M448.0 1128.8L453.8 1123.0M450.1 1123.0L455.9 1128.8M450.1 1128.8L455.9 1123.0M452.2 1123.0L458.0 1128.8M452.2 1128.8L458.0 1123.0M454.3 1123.0L460.1 1128.8M454.3 1128.8L460.1 1123.0M456.4 1123.0L462.2 1128.8M456.4 1128.8L462.2 1123.0M458.5 1123.0L464.3 1128.8M458.5 1128.8L464.3 1123.0M460.6 1123.0L466.4 1128.8M460.6 1128.8L466.4 1123.0M462.7 1123.0L468.5 1128.8M462.7 1128.8L468.5 1123.0M464.8 1123.0L470.6 1128.8M464.8 1128.8L470.6 1123.0M466.9 1123.0L472.7 1128.8M466.9 1128.8L472.7 1123.0M469.0 1123.0L474.8 1128.8M469.0 1128.8L474.8 1123.0M471.1 1123.0L476.9 1128.8M471.1 1128.8L476.9 1123.0M473.2 1123.0L479.0 1128.8M473.2 1128.8L479.0 1123.0M475.3 1123.0L481.1 1128.8M475.3 1128.8L481.1 1123.0M477.4 1123.1L483.2 1128.9M477.4 1128.9L483.2 1123.1M479.5 1123.1L485.3 1128.9M479.5 1128.9L485.3 1123.1M481.6 1123.1L487.4 1128.9M481.6 1128.9L487.4 1123.1M483.7 1123.1L489.5 1128.9M483.7 1128.9L489.5 1123.1M485.8 1123.1L491.6 1128.9M485.8 1128.9L491.6 1123.1M487.9 1123.1L493.7 1128.9M487.9 1128.9L493.7 1123.1M490.0 1123.1L495.8 1128.9M490.0 1128.9L495.8 1123.1M492.1 1123.1L497.9 1128.9M492.1 1128.9L497.9 1123.1M494.2 1123.1L500.0 1128.9M494.2 1128.9L500.0 1123.1M496.3 1123.1L502.1 1128.9M496.3 1128.9L502.1 1123.1M498.4 1123.1L504.2 1128.9M498.4 1128.9L504.2 1123.1" fill="none" stroke="#000" stroke-width="1.45"/>
</svg>
</body></html>
